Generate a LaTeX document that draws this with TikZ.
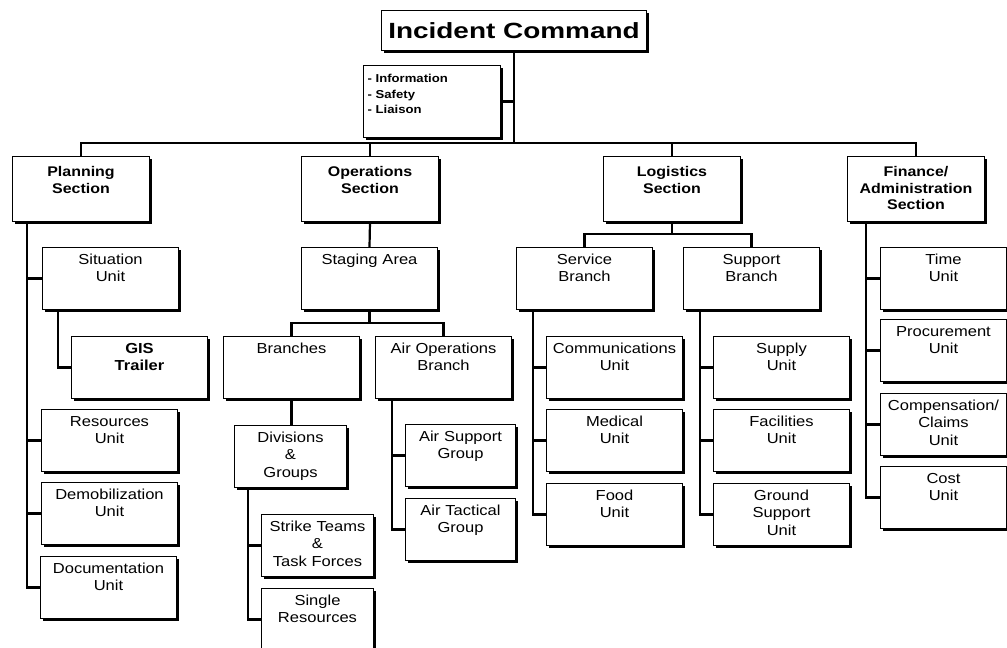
\documentclass[tikz,border=0pt]{standalone}
\usepackage{fontspec}
\setmainfont{Liberation Sans}[FakeStretch=1.14]
\newfontfamily\titlefont{Liberation Sans}[FakeStretch=1.27]
\usetikzlibrary{shadows}

\begin{document}
\begin{tikzpicture}[x=1pt, y=-1pt,
  box/.style={draw, line width=1pt, fill=white, align=center, anchor=north west,
    inner xsep=2pt, inner ysep=4pt,
    drop shadow={shadow xshift=2.2pt, shadow yshift=-2.2pt, opacity=1, fill=black},
    font=\fontsize{14.5}{17.3}\selectfont},
  unit/.style={box, text width=132pt, text height=13pt, text depth=41pt},
  narrow/.style={unit, text width=108pt},
  finunit/.style={unit, text width=122pt},
  section/.style={box, text width=133pt, text height=16pt, text depth=41pt,
    font=\fontsize{14}{16.7}\selectfont\bfseries},
  link/.style={line width=2.2pt}]
  \clip (0,0) rectangle (1007,648);
  \fill[white] (0,0) rectangle (1007,648);
  % Command level
  \node[box, minimum width=265pt, minimum height=40pt, inner sep=0pt,
    font=\fontsize{22}{26}\selectfont\titlefont\bfseries] (ic) at (381,10) {Incident Command};
  \node[box, align=left, text width=129pt, inner xsep=4pt, text height=13.3pt, text depth=50.7pt,
    font=\fontsize{11.5}{15.3}\selectfont\bfseries] (info) at (363,65)
    {- Information\\- Safety\\- Liaison};
  \coordinate (bus) at (0,143);
  % Sections
  \node[section] (plan) at (12,156) {Planning\\Section};
  \node[section] (ops) at (301,156) {Operations\\Section};
  \node[section] (log) at (603,156) {Logistics\\Section};
  \node[section] (fin) at (847,156) {Finance/\\Administration\\Section};
  \draw[link] (ic.south) -- (ic.south |- bus);
  \draw[link] (info.east) -- (info.east -| ic.south);
  \draw[link] (plan.north) |- (fin.north |- bus) -- (fin.north);
  \draw[link] (ops.north) -- (ops.north |- bus);
  \draw[link] (log.north) -- (log.north |- bus);
  % Planning
  \node[unit] (sit) at (42,247) {Situation\\Unit};
  \node[unit, font=\fontsize{14.5}{17.3}\selectfont\bfseries] (gis) at (71,336) {GIS\\Trailer};
  \node[unit] (res) at (41,409) {Resources\\Unit};
  \node[unit] (demob) at (41,482) {Demobilization\\Unit};
  \node[unit] (doc) at (40,556) {Documentation\\Unit};
  \coordinate (ptrunk) at ([xshift=15pt]plan.south west);
  \draw[link] (ptrunk) |- (doc.west);
  \foreach \n in {sit,res,demob}
    \draw[link] (ptrunk |- \n.west) -- (\n.west);
  \draw[link] ([xshift=16pt]sit.south west) |- (gis.west);
  % Operations
  \node[unit] (stag) at (301,247) {Staging Area};
  \node[unit] (br) at (223,336) {Branches};
  \node[unit] (airops) at (375,336) {Air Operations\\Branch};
  \node[narrow] (div) at (234,425) {Divisions\\\&\\Groups};
  \node[narrow] (strike) at (261,514) {Strike Teams\\\&\\Task Forces};
  \node[narrow] (single) at (261,588) {Single\\Resources};
  \node[narrow, text width=106pt] (airsup) at (405,424) {Air Support\\Group};
  \node[narrow, text width=106pt] (airtac) at (405,498) {Air Tactical\\Group};
  \coordinate (obus) at (0,323);
  \draw[link] (ops.south) -- (stag.north);
  \draw[link] (stag.south) -- (stag.south |- obus);
  \draw[link] (br.north) |- (airops.north |- obus) -- (airops.north);
  \draw[link] (br.south) -- (br.south |- div.north);
  \coordinate (dtrunk) at ([xshift=14pt]div.south west);
  \draw[link] (dtrunk) |- (single.west);
  \draw[link] (dtrunk |- strike.west) -- (strike.west);
  \coordinate (atrunk) at ([xshift=17pt]airops.south west);
  \draw[link] (atrunk) |- (airtac.west);
  \draw[link] (atrunk |- airsup.west) -- (airsup.west);
  % Logistics
  \node[unit] (serv) at (516,247) {Service\\Branch};
  \node[unit] (supp) at (683,247) {Support\\Branch};
  \node[unit] (comm) at (546,336) {Communications\\Unit};
  \node[unit] (med) at (546,409) {Medical\\Unit};
  \node[unit] (food) at (546,483) {Food\\Unit};
  \node[unit] (supply) at (713,336) {Supply\\Unit};
  \node[unit] (facil) at (713,409) {Facilities\\Unit};
  \node[unit] (ground) at (713,483) {Ground\\Support\\Unit};
  \coordinate (lbus) at (0,234);
  \draw[link] (log.south) -- (log.south |- lbus);
  \draw[link] (serv.north) |- (supp.north |- lbus) -- (supp.north);
  \coordinate (strunk) at ([xshift=17pt]serv.south west);
  \draw[link] (strunk) |- (food.west);
  \foreach \n in {comm,med}
    \draw[link] (strunk |- \n.west) -- (\n.west);
  \coordinate (utrunk) at ([xshift=17pt]supp.south west);
  \draw[link] (utrunk) |- (ground.west);
  \foreach \n in {supply,facil}
    \draw[link] (utrunk |- \n.west) -- (\n.west);
  % Finance/Administration
  \node[finunit] (time) at (880,247) {Time\\Unit};
  \node[finunit] (proc) at (880,319) {Procurement\\Unit};
  \node[finunit] (comp) at (880,393) {Compensation/\\Claims\\Unit};
  \node[finunit] (cost) at (880,466) {Cost\\Unit};
  \coordinate (ftrunk) at ([xshift=19pt]fin.south west);
  \draw[link] (ftrunk) |- (cost.west);
  \foreach \n in {time,proc,comp}
    \draw[link] (ftrunk |- \n.west) -- (\n.west);
\end{tikzpicture}
\end{document}
